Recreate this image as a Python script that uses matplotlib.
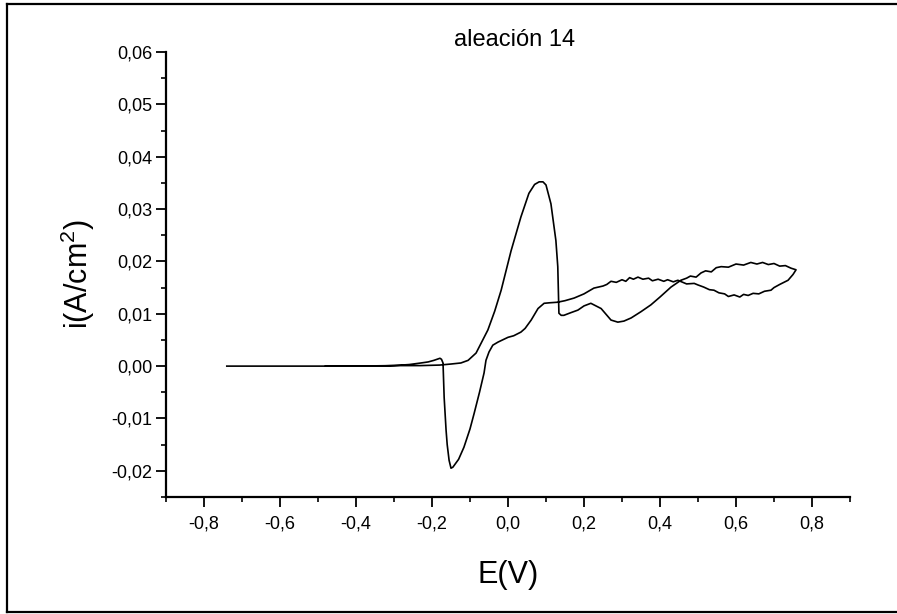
import matplotlib

matplotlib.use("Agg")
import matplotlib.pyplot as plt
from matplotlib.lines import Line2D
from matplotlib.ticker import FuncFormatter, MultipleLocator

plt.rcParams.update({
    "font.family": ["Liberation Sans", "DejaVu Sans"],
    "mathtext.fontset": "custom",
    "mathtext.rm": "Liberation Sans",
    "mathtext.it": "Liberation Sans",
})

# forward sweep (anodic)
fwd_E = [-0.74, -0.40, -0.30, -0.23, -0.18, -0.15, -0.124, -0.105, -0.084,
         -0.07, -0.053, -0.035, -0.018, 0.008, 0.034, 0.055, 0.07, 0.082,
         0.092, 0.10, 0.113, 0.126, 0.131, 0.134, 0.14, 0.147, 0.165, 0.184,
         0.20, 0.218, 0.245, 0.271, 0.289, 0.305, 0.324, 0.35, 0.376, 0.40,
         0.429, 0.455, 0.47, 0.48, 0.495, 0.508, 0.52, 0.535, 0.548, 0.561,
         0.58, 0.60, 0.62, 0.639, 0.655, 0.67, 0.685, 0.70, 0.715, 0.73,
         0.745, 0.758]
fwd_i = [0.0, 0.0, 0.0001, 0.0001, 0.0002, 0.0004, 0.0006, 0.0011, 0.0025,
         0.0045, 0.0069, 0.0105, 0.0145, 0.0220, 0.0285, 0.0330, 0.0347, 0.0352,
         0.0352, 0.0346, 0.0310, 0.0240, 0.0190, 0.0101, 0.0097, 0.0097, 0.0102, 0.0107,
         0.0115, 0.0120, 0.0110, 0.0088, 0.0084, 0.0086, 0.0092, 0.0104, 0.0117, 0.0132,
         0.0151, 0.0164, 0.0168, 0.0172, 0.0170, 0.0178, 0.0182, 0.0180, 0.0188, 0.0190,
         0.0189, 0.0195, 0.0193, 0.0198, 0.0195, 0.0198, 0.0194, 0.0196, 0.0191, 0.0192,
         0.0187, 0.0184]

# reverse sweep (cathodic)
rev_E = [0.758, 0.75, 0.737, 0.715, 0.70, 0.692, 0.675, 0.66, 0.645, 0.632,
         0.62, 0.61, 0.595, 0.58, 0.57, 0.555, 0.542, 0.53, 0.515, 0.50, 0.49,
         0.47, 0.447, 0.435, 0.42, 0.41, 0.395, 0.38, 0.37, 0.355, 0.342,
         0.33, 0.32, 0.31, 0.30, 0.285, 0.271, 0.26, 0.25, 0.226, 0.20,
         0.174, 0.15, 0.13, 0.11, 0.095, 0.079, 0.061, 0.045, 0.034, 0.015,
         0.0, -0.026, -0.04, -0.05, -0.058, -0.063, -0.075, -0.089, -0.10,
         -0.116, -0.13, -0.145, -0.15, -0.155, -0.16, -0.163, -0.168, -0.171,
         -0.175, -0.179, -0.187, -0.195, -0.21, -0.229, -0.26, -0.30, -0.35,
         -0.48]
rev_i = [0.0183, 0.0175, 0.0164, 0.0156, 0.0150, 0.0145, 0.0143, 0.0138, 0.0139, 0.0135,
         0.0137, 0.0132, 0.0136, 0.0133, 0.0138, 0.0140, 0.0145, 0.0146, 0.0151, 0.0155, 0.0158,
         0.0157, 0.0164, 0.0161, 0.0165, 0.0162, 0.0166, 0.0163, 0.0168, 0.0166, 0.0170,
         0.0166, 0.0169, 0.0162, 0.0165, 0.0160, 0.0162, 0.0156, 0.0153, 0.0149, 0.0138,
         0.0130, 0.0125, 0.0122, 0.0121, 0.0120, 0.0110, 0.0088, 0.0072, 0.0065, 0.0058,
         0.0055, 0.0046, 0.0040, 0.0027, 0.0011, -0.0013, -0.0050, -0.0090, -0.0120,
         -0.0155, -0.0178, -0.0193, -0.0195, -0.0180, -0.0150, -0.0122, -0.0060, 0.0006,
         0.0013, 0.0015, 0.0013, 0.0011, 0.0008, 0.0006, 0.0003, 0.0001, 0.0, 0.0]

fig = plt.figure(figsize=(8.97, 6.14), dpi=100)
ax = fig.add_axes([166 / 897, 117 / 614, 684 / 897, 445 / 614])

ax.plot(fwd_E + rev_E[1:], fwd_i + rev_i[1:], color="black", lw=1.2)

ax.set_xlim(-0.9, 0.9)
ax.set_ylim(-0.025, 0.06)
ax.xaxis.set_major_locator(MultipleLocator(0.2))
ax.xaxis.set_minor_locator(MultipleLocator(0.1))
ax.yaxis.set_major_locator(MultipleLocator(0.01))
ax.yaxis.set_minor_locator(MultipleLocator(0.005))


def _comma(fmt):
    def f(v, _pos):
        if abs(v) < 1e-9:
            v = 0.0
        return fmt.format(v).replace(".", ",")
    return FuncFormatter(f)


ax.xaxis.set_major_formatter(_comma("{:.1f}"))
ax.yaxis.set_major_formatter(_comma("{:.2f}"))

for side in ("top", "right"):
    ax.spines[side].set_visible(False)
for side in ("left", "bottom"):
    ax.spines[side].set_linewidth(1.6)
ax.tick_params(which="major", length=7, width=1.3, labelsize=13)
ax.tick_params(which="minor", length=3.5, width=1.2)
ax.tick_params(axis="x", which="major", pad=6)
ax.tick_params(axis="y", which="major", pad=3)

ax.set_title("aleación 14", fontsize=17, pad=4, x=0.51)
ax.set_xlabel("E(V)", fontsize=22, labelpad=20)
ax.set_ylabel("i(A/cm$^{2}$)", fontsize=22, labelpad=10)

# border round the picture: left, top and bottom edges
px, py = 1 / 897, 1 / 614
for xs, ys in [((7 * px, 7 * px), (2 * py, 610 * py)),
               ((7 * px, 1.0), (610 * py, 610 * py)),
               ((7 * px, 1.0), (2 * py, 2 * py))]:
    fig.add_artist(Line2D(xs, ys, transform=fig.transFigure,
                          color="black", lw=1.6))

fig.savefig("out.png", dpi=100)
